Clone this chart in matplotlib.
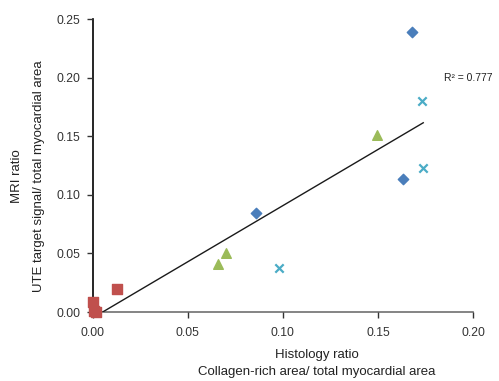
import numpy as np
import matplotlib
matplotlib.use('Agg')
import matplotlib.pyplot as plt

plt.rcParams['font.family'] = ['Liberation Sans', 'DejaVu Sans']

# 数据
blue_x = [0.168, 0.1634, 0.0858]
blue_y = [0.239, 0.1135, 0.0842]
cyan_x = [0.173, 0.1738, 0.098]
cyan_y = [0.180, 0.1226, 0.0373]
green_x = [0.1494, 0.0698, 0.0659]
green_y = [0.151, 0.0506, 0.0407]
red_x = [0.0128, 0.0, 0.0005, 0.0016]
red_y = [0.0199, 0.0088, 0.001, 0.0]

x_ticks = [0.00, 0.05, 0.10, 0.15, 0.20]
y_ticks = [0.00, 0.05, 0.10, 0.15, 0.20, 0.25]

# 线性趋势线
all_x = np.array(blue_x + cyan_x + green_x + red_x)
all_y = np.array(blue_y + cyan_y + green_y + red_y)
k, b = np.polyfit(all_x, all_y, 1)

fig = plt.figure(figsize=(4.99, 3.81), dpi=100)
ax = fig.add_axes([0.186, 0.181, 0.762, 0.769])

ax.scatter(blue_x, blue_y, marker='D', s=28, color='#4a7ebb', zorder=3, clip_on=False)
ax.scatter(cyan_x, cyan_y, marker='x', s=36, color='#4bacc6', linewidths=1.6, zorder=3, clip_on=False)
ax.scatter(green_x, green_y, marker='^', s=48, color='#9bbb59', zorder=3, clip_on=False)
ax.scatter(red_x, red_y, marker='s', s=55, color='#c0504d', zorder=3, clip_on=False)

lx = np.array([0.0, max(all_x)])
ax.plot(lx, k * lx + b, color='#1a1a1a', linewidth=1.0, zorder=2)

ax.set_xlim(0, 0.20)
ax.set_ylim(0, 0.25)
ax.set_xticks(x_ticks)
ax.set_yticks(y_ticks)
ax.xaxis.set_major_formatter(plt.FormatStrFormatter('%.2f'))
ax.yaxis.set_major_formatter(plt.FormatStrFormatter('%.2f'))
ax.tick_params(axis='both', labelsize=8.8, colors='#333333', length=4, width=1)
ax.tick_params(axis='x', pad=7)
ax.tick_params(axis='y', pad=5)

for s in ['top', 'right']:
    ax.spines[s].set_visible(False)
ax.spines['left'].set_color('black')
ax.spines['left'].set_linewidth(1.2)
ax.spines['bottom'].set_color('#707070')
ax.spines['bottom'].set_linewidth(1.2)
ax.spines['left'].set_zorder(1)
ax.spines['bottom'].set_zorder(1)

ax.text(0.1845, 0.2, 'R² = 0.777', fontsize=7.5, color='#222222', ha='left', va='center')

fig.text(0.635, 0.068, 'Histology ratio', fontsize=9.5, color='#222222', ha='center', va='center')
fig.text(0.635, 0.024, 'Collagen-rich area/ total myocardial area', fontsize=9.5, color='#222222',
         ha='center', va='center')
fig.text(0.034, 0.538, 'MRI ratio', fontsize=9.5, color='#222222', rotation=90, ha='center', va='center')
fig.text(0.078, 0.538, 'UTE target signal/ total myocardial area', fontsize=9.5, color='#222222',
         rotation=90, ha='center', va='center')

fig.savefig('out.png', dpi=100)
